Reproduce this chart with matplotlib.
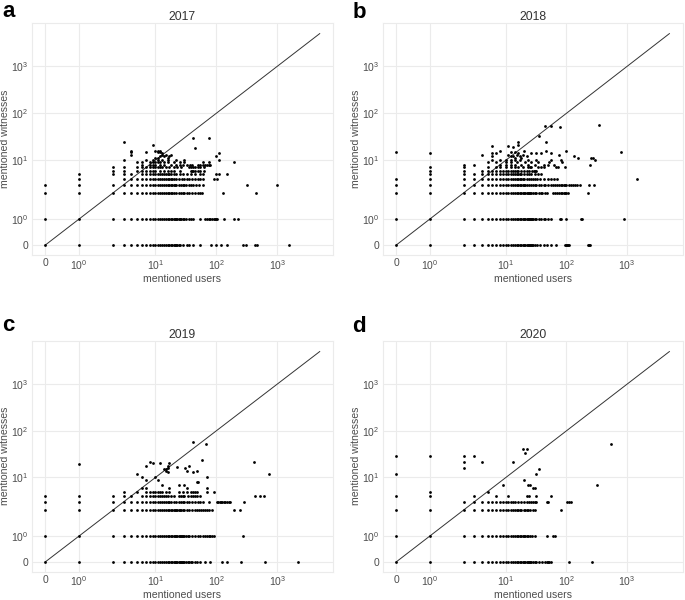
import matplotlib
matplotlib.use("Agg")
import matplotlib.pyplot as plt

plt.rcParams['font.family'] = ['Liberation Sans', 'DejaVu Sans']
plt.rcParams['mathtext.fontset'] = 'custom'
plt.rcParams['mathtext.rm'] = 'Liberation Sans'
plt.rcParams['mathtext.it'] = 'Liberation Sans:italic'

years = ['2017', '2018', '2019', '2020']
letters = ['a', 'b', 'c', 'd']
tick_vals = [0, 1, 10, 100, 1000]
tick_labels = ['0', '$10^0$', '$10^1$', '$10^2$', '$10^3$']
diag = [0, 5000]

# rows: mentioned witnesses -> mentioned users seen on that row
rows_2017 = {
    0: [0, 1, 2, 3, 4, 5, 6, 7, 8, 9, 10, 11, 12, 13, 14, 15, 16, 17, 18, 19, 20, 21, 22, 23, 24, 25,
        28, 33, 35, 42, 54, 81, 100, 120, 150, 274, 308, 438, 467, 1590],
    1: [0, 1, 2, 3, 4, 5, 6, 7, 8, 9, 10, 11, 12, 13, 14, 15, 16, 17, 18, 19, 20, 21, 22, 23, 24, 25,
        26, 28, 30, 32, 35, 38, 42, 53, 66, 70, 75, 80, 85, 90, 95, 100, 104, 135, 193, 224],
    2: [0, 1, 2, 3, 4, 5, 6, 7, 8, 9, 10, 11, 12, 13, 14, 15, 16, 17, 18, 19, 20, 22, 24, 26, 28, 30,
        33, 36, 40, 45, 50, 55, 58, 128, 455],
    3: [0, 1, 2, 3, 4, 5, 6, 7, 8, 9, 10, 11, 12, 13, 14, 15, 16, 17, 18, 19, 20, 21, 22, 24, 26, 28,
        30, 32, 35, 38, 42, 47, 52, 60, 319, 1000],
    4: [1, 3, 4, 5, 6, 7, 8, 9, 10, 11, 12, 13, 14, 15, 16, 17, 18, 19, 20, 22, 24, 27, 30, 33, 36,
        40, 45, 50, 55, 60, 90, 102],
    5: [1, 2, 3, 4, 6, 7, 8, 9, 10, 11, 12, 13, 14, 15, 16, 17, 18, 20, 22, 25, 28, 33, 38, 45, 55,
        60, 100, 110, 150],
    6: [2, 3, 5, 6, 7, 8, 9, 10, 12, 14, 16, 18, 20, 25, 38, 40, 42, 45, 50, 55, 62],
    7: [2, 3, 5, 6, 7, 8, 9, 10, 11, 12, 13, 15, 17, 20, 23, 26, 35, 38, 42, 45, 50, 55, 62],
    8: [6, 8, 9, 10, 12, 14, 18, 22, 25, 28, 33, 37, 40, 50, 55, 60, 65, 70, 75, 80],
    9: [5, 6, 8, 9, 10, 11, 12, 14, 16, 20, 25, 30, 60, 75],
    10: [3, 7, 9, 11, 13, 16, 22, 30, 110],
}
extra_2017 = [(3, 25), (4, 16), (4, 15), (4, 13), (7, 15), (9, 21), (10, 16), (11, 16), (12, 16),
              (11, 15), (12, 15), (13, 13), (14, 12), (15, 13), (17, 12), (18, 13), (12, 12), (13, 14),
              (10, 11), (11, 11), (16, 11), (42, 30), (77, 30), (44, 18), (111, 14), (98, 12), (193, 9)]

rows_2018 = {
    0: [0, 1, 2, 3, 4, 5, 6, 7, 8, 9, 10, 11, 12, 13, 14, 15, 16, 17, 18, 19, 20, 21, 22, 23, 24, 25,
        26, 27, 28, 30, 33, 36, 42, 48, 55, 68, 96, 100, 104, 107, 112, 230, 240, 248],
    1: [0, 1, 2, 3, 4, 5, 6, 7, 8, 9, 10, 11, 12, 13, 14, 15, 16, 17, 18, 19, 20, 21, 22, 23, 24, 25,
        26, 27, 28, 30, 32, 35, 38, 42, 45, 50, 55, 77, 80, 100, 175, 180, 895],
    2: [0, 1, 2, 3, 4, 5, 6, 7, 8, 9, 10, 11, 12, 13, 14, 15, 16, 17, 18, 19, 20, 21, 22, 23, 24, 25,
        26, 28, 30, 32, 35, 38, 40, 44, 48, 60, 65, 70, 75, 80, 85, 90, 95, 100, 105, 230],
    3: [0, 1, 2, 3, 4, 5, 6, 7, 8, 9, 10, 11, 12, 13, 14, 15, 16, 17, 18, 19, 20, 21, 22, 24, 26, 28,
        30, 32, 35, 38, 42, 45, 50, 55, 60, 65, 70, 75, 80, 85, 90, 95, 100, 110, 120, 130, 140, 150,
        165, 240, 285],
    4: [0, 1, 2, 3, 4, 5, 6, 7, 8, 9, 10, 11, 12, 13, 14, 15, 16, 17, 18, 19, 20, 22, 24, 26, 28, 30,
        33, 37, 42, 50, 55, 62, 70, 1478],
    5: [1, 2, 3, 4, 5, 6, 7, 8, 9, 10, 11, 12, 13, 14, 15, 16, 17, 18, 20, 22, 24, 26, 30, 34, 38],
    6: [1, 2, 4, 5, 6, 7, 8, 9, 10, 11, 12, 13, 14, 15, 16, 18, 20, 22, 24, 27, 30, 32],
    7: [1, 2, 5, 7, 8, 10, 12, 14, 16, 19, 23, 26, 34, 43, 72, 93],
    8: [2, 3, 8, 10, 12, 14, 18, 23, 30, 43, 63],
    9: [5, 7, 10, 12, 15, 21, 26, 34, 52, 86],
    10: [6, 8, 10, 12, 14, 17, 23, 32, 56, 81],
}
extra_2018 = [(0, 15), (1, 14), (4, 13), (6, 14), (7, 14), (8, 16), (6, 12), (6, 20), (11, 20), (13, 19),
              (16, 24), (16, 21), (11, 13), (12, 12), (13, 12), (14, 11), (15, 13), (16, 14), (17, 12),
              (18, 11), (12, 15), (14, 15), (19, 13), (20, 16), (22, 12), (26, 14), (32, 14), (38, 14),
              (46, 16), (56, 14), (76, 13), (98, 16), (135, 12), (153, 11), (254, 11), (270, 11),
              (295, 10), (788, 15), (245, 8), (35, 33), (46, 24), (44, 53), (56, 53), (79, 51),
              (348, 55), (49, 8), (68, 7), (29, 6), (25, 7), (38, 7)]

rows_2019 = {
    0: [0, 1, 2, 3, 4, 5, 6, 7, 8, 9, 10, 11, 12, 13, 14, 15, 16, 17, 18, 19, 20, 21, 22, 23, 24, 25,
        26, 27, 28, 30, 32, 34, 36, 38, 40, 44, 48, 54, 66, 78, 124, 150, 254, 640, 2214],
    1: [0, 1, 2, 3, 4, 5, 6, 7, 8, 9, 10, 11, 12, 13, 14, 15, 16, 17, 18, 19, 20, 21, 22, 23, 24, 25,
        26, 27, 28, 30, 32, 34, 36, 40, 45, 50, 55, 60, 65, 70, 75, 80, 85, 90, 274],
    2: [0, 1, 2, 3, 4, 5, 6, 7, 8, 9, 10, 11, 12, 13, 14, 15, 16, 17, 18, 19, 20, 21, 22, 23, 24, 25,
        26, 28, 30, 33, 36, 40, 44, 48, 52, 56, 60, 65, 70, 75, 85, 193, 248],
    3: [0, 1, 2, 3, 4, 5, 6, 7, 8, 9, 10, 11, 12, 13, 14, 15, 16, 17, 18, 20, 22, 24, 26, 28, 30, 33,
        36, 40, 45, 50, 55, 60, 75, 102, 108, 114, 120, 126, 132, 140, 150, 160, 170, 288],
    4: [0, 1, 2, 3, 4, 6, 7, 8, 9, 10, 11, 12, 13, 14, 15, 16, 18, 20, 24, 26, 28, 30, 34, 38, 42, 44,
        48, 55, 438, 517, 617],
    5: [3, 5, 7, 8, 9, 10, 11, 12, 13, 15, 17, 24, 28, 33, 38, 42, 45, 48, 70, 92],
    6: [6, 7, 17, 33, 70],
}
extra_2019 = [(1, 19), (41, 58), (67, 51), (58, 24), (422, 22), (736, 12), (8, 22), (9, 20), (7, 18),
              (12, 20), (17, 20), (16, 18), (14, 15), (15, 15), (15, 14), (16, 16), (16, 13), (23, 17),
              (31, 16), (35, 18), (33, 14), (41, 13), (48, 14), (5, 12), (6, 10), (7, 9), (10, 10),
              (11, 9), (70, 10), (48, 8), (50, 8), (13, 7), (24, 7), (29, 7)]

rows_2020 = {
    0: [0, 1, 2, 3, 4, 5, 6, 7, 8, 9, 10, 11, 12, 13, 14, 15, 16, 17, 18, 19, 20, 21, 22, 23, 24, 25,
        26, 28, 30, 32, 35, 40, 45, 48, 50, 52, 55, 110, 260],
    1: [0, 1, 2, 3, 4, 5, 6, 7, 8, 9, 10, 11, 12, 13, 14, 15, 16, 17, 18, 19, 20, 21, 22, 23, 25, 27,
        30, 48, 60, 65],
    2: [0, 1, 2, 3, 4, 5, 6, 7, 8, 9, 10, 11, 12, 13, 14, 15, 16, 17, 18, 20, 21, 22, 23, 25, 28, 30, 82],
    3: [2, 3, 4, 5, 6, 7, 8, 9, 10, 11, 12, 13, 14, 16, 18, 20, 22, 24, 26, 28, 30, 32, 48, 50, 103,
        110, 118],
    4: [0, 1, 3, 7, 11, 22, 24, 32, 56],
    5: [1, 5],
}
extra_2020 = [(0, 12), (0, 29), (1, 29), (2, 16), (2, 21), (2, 29), (3, 29), (4, 21), (9, 7), (13, 21),
              (19, 40), (22, 40), (21, 34), (20, 9), (23, 7), (25, 7), (28, 6), (30, 6), (32, 12),
              (35, 15), (318, 7), (541, 51)]

panels = [(rows_2017, extra_2017), (rows_2018, extra_2018),
          (rows_2019, extra_2019), (rows_2020, extra_2020)]

fig = plt.figure(figsize=(6.85, 6.0), dpi=100)
boxes = [[0.0463, 0.575, 0.440, 0.387], [0.5587, 0.575, 0.438, 0.387],
         [0.0463, 0.047, 0.440, 0.385], [0.5587, 0.047, 0.438, 0.385]]
letter_pos = [(0.003, 0.972), (0.514, 0.970), (0.003, 0.449), (0.514, 0.447)]
xlab_y = [-0.103, -0.103, -0.102, -0.102]
ylab_x = [-0.087, -0.09, -0.087, -0.09]

for i in range(4):
    rows, extra = panels[i]
    xs, ys = [], []
    for yv, xlist in rows.items():
        xs += xlist
        ys += [yv] * len(xlist)
    xs += [p[0] for p in extra]
    ys += [p[1] for p in extra]

    ax = fig.add_axes(boxes[i])
    ax.set_xscale('symlog', linthresh=2, linscale=1)
    ax.set_yscale('symlog', linthresh=2, linscale=1)
    ax.plot(diag, diag, color='#333333', lw=0.7, zorder=2)
    ax.scatter(xs, ys, s=4, color='black', linewidths=0, zorder=3)
    ax.set_xlim(-0.4, 8300)
    ax.set_ylim(-0.38, 8500)
    ax.set_xticks(tick_vals)
    ax.set_xticklabels(tick_labels)
    ax.set_yticks(tick_vals)
    ax.set_yticklabels(tick_labels)
    ax.minorticks_off()
    ax.grid(True, color='#ebebeb', lw=0.8, zorder=0)
    ax.set_axisbelow(True)
    for sp in ax.spines.values():
        sp.set_color('#ebebeb')
        sp.set_linewidth(0.8)
    ax.tick_params(length=0, labelsize=7.5, labelcolor='#4d4d4d', pad=2)
    ax.tick_params(axis='y', pad=2.5)
    ax.set_xlabel('mentioned users', fontsize=7.6, color='#4d4d4d', va='center')
    ax.set_ylabel('mentioned witnesses', fontsize=7.6, color='#4d4d4d', va='center')
    ax.xaxis.set_label_coords(0.5, xlab_y[i])
    ax.yaxis.set_label_coords(ylab_x[i], 0.5)
    ax.set_title(years[i], fontsize=8.8, color='#333333', pad=2)
    fig.text(letter_pos[i][0], letter_pos[i][1], letters[i], fontsize=16, fontweight='bold',
             ha='left', va='baseline')

fig.savefig('out.png', dpi=100)
